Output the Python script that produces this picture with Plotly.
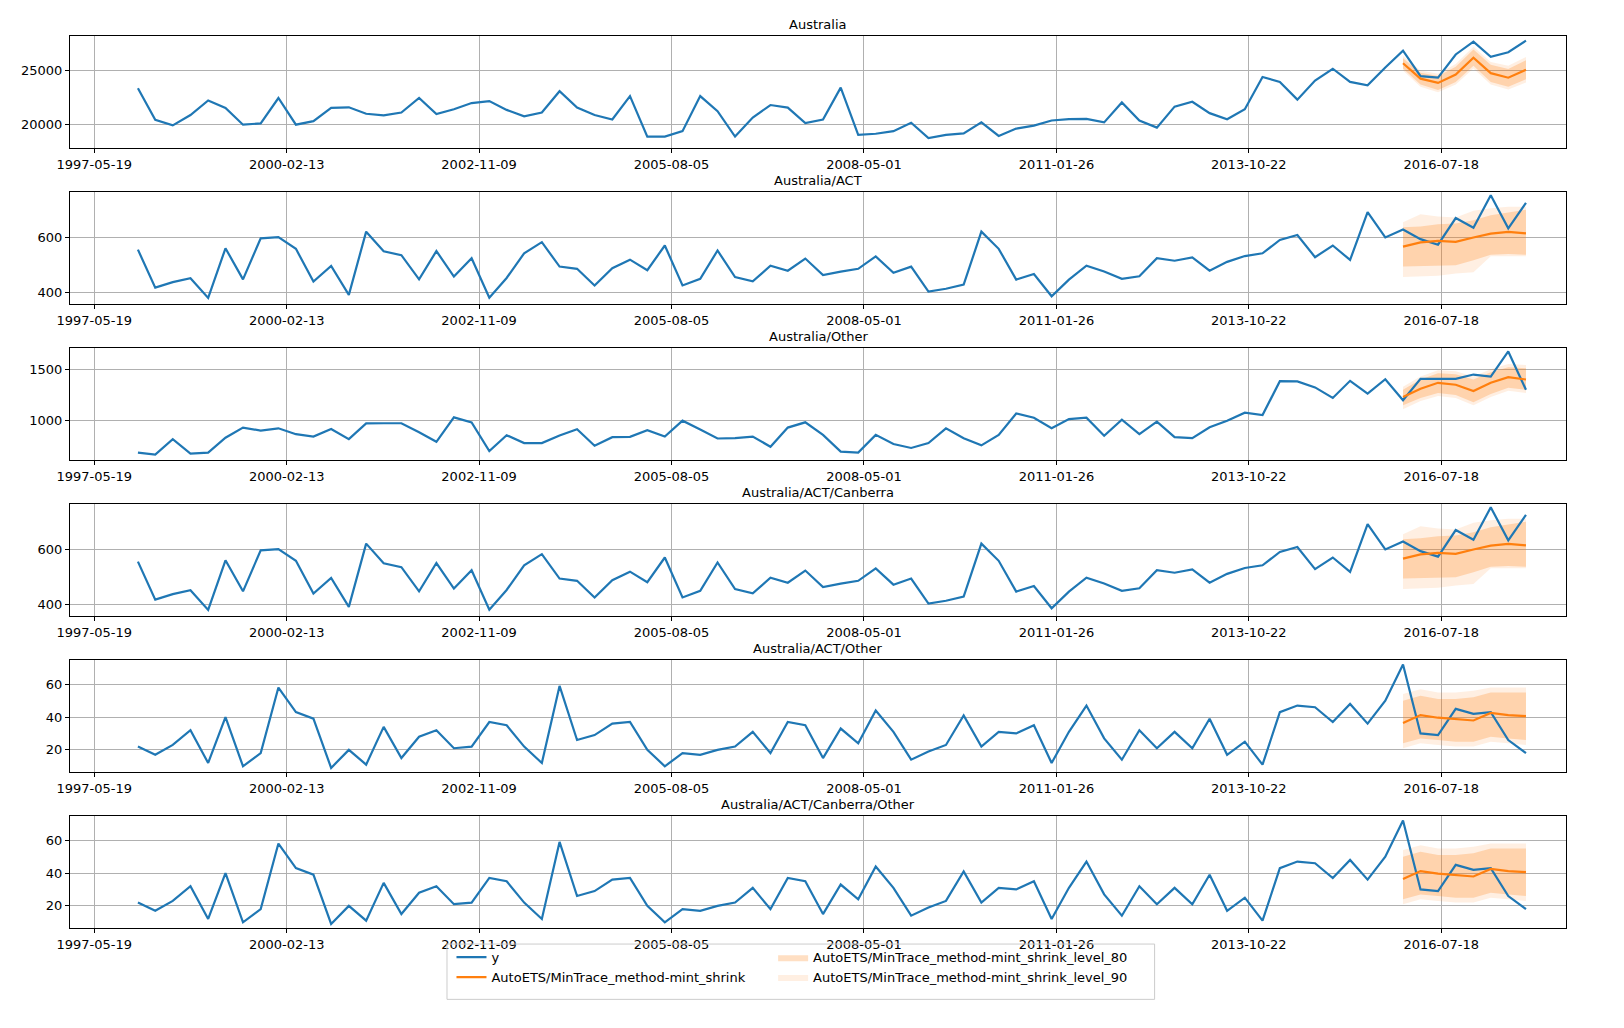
import pandas as pd
import plotly.graph_objects as go
from plotly.subplots import make_subplots

# quarterly observations, 1998 Q1 .. 2017 Q4
dates = pd.date_range("1998-01-01", periods=80, freq="QS")
fc_dates = dates[72:]

titles = ["Australia", "Australia/ACT", "Australia/Other", "Australia/ACT/Canberra",
          "Australia/ACT/Other", "Australia/ACT/Canberra/Other"]

y_aus = [23310, 20390, 19880, 20830, 22180, 21490, 19940, 20060, 22410, 19940,
         20270, 21490, 21550, 20950, 20800, 21070, 22410, 20920, 21370, 21940,
         22120, 21310, 20720, 21070, 23040, 21520, 20830, 20420, 22590, 18840,
         18840, 19340, 22590, 21190, 18840, 20600, 21760, 21520, 20090, 20420,
         23370, 18990, 19100, 19340, 20120, 18690, 18990, 19140, 20150, 18900,
         19580, 19850, 20330, 20450, 20480, 20150, 22000, 20330, 19670, 21610,
         22060, 21010, 20450, 21370, 24350, 23900, 22260, 24020, 25120, 23900,
         23580, 25240, 26790, 24440, 24290, 26440, 27630, 26230, 26650, 27720]
y_act = [556, 419, 439, 453, 382, 561, 449, 597, 601, 559,
         441, 497, 393, 621, 550, 536, 449, 551, 459, 525,
         383, 454, 543, 583, 495, 487, 427, 489, 520, 482,
         571, 427, 451, 553, 457, 442, 498, 480, 524, 464,
         477, 487, 532, 473, 495, 405, 415, 430, 621, 559,
         448, 468, 388, 448, 498, 477, 451, 460, 525, 516,
         528, 480, 512, 533, 543, 591, 609, 529, 571, 519,
         691, 600, 629, 594, 574, 670, 635, 752, 633, 725]
y_other = [690, 670, 820, 680, 690, 834, 933, 904, 926, 869,
           846, 920, 821, 974, 975, 975, 888, 795, 1032, 984,
           705, 859, 782, 782, 856, 917, 757, 840, 843, 907,
           846, 1000, 914, 827, 830, 846, 747, 933, 984, 862,
           700, 690, 862, 773, 735, 782, 926, 830, 760, 862,
           1070, 1029, 926, 1016, 1029, 853, 1010, 869, 990, 840,
           830, 936, 1000, 1077, 1054, 1384, 1381, 1323, 1221, 1387,
           1262, 1403, 1198, 1406, 1406, 1406, 1448, 1429, 1672, 1301]
y_act_other = [22, 17, 23, 32, 12, 40, 10, 18, 58, 43,
               39, 9, 20, 11, 34, 15, 28, 32, 21, 22,
               37, 35, 22, 12, 59, 26, 29, 36, 37, 20,
               10, 18, 17, 20, 22, 31, 18, 37, 35, 15,
               33, 24, 44, 31, 14, 19, 23, 41, 22, 31,
               30, 35, 12, 31, 47, 27, 14, 32, 21, 31,
               21, 39, 17, 25, 11, 43, 47, 46, 37, 48,
               36, 50, 72, 30, 29, 45, 42, 43, 26, 18]

# reconciled forecasts and intervals
f_aus = [25630, 24200, 23810, 24590, 26140, 24710, 24290, 25030]
lo80_aus = [25150, 23650, 23150, 23900, 25400, 23900, 23450, 24150]
hi80_aus = [26100, 24750, 24450, 25300, 26900, 25500, 25100, 25900]
lo90_aus = [24950, 23450, 22950, 23650, 25150, 23650, 23200, 23850]
hi90_aus = [26300, 24950, 24650, 25550, 27150, 25750, 25400, 26200]

f_act = [567, 582, 588, 584, 600, 614, 620, 615]
lo80_act = [495, 497, 500, 500, 518, 538, 540, 538]
hi80_act = [637, 640, 648, 650, 662, 680, 690, 700]
lo90_act = [457, 460, 462, 470, 475, 532, 532, 532]
hi90_act = [655, 684, 676, 672, 696, 705, 711, 711]

f_other = [1230, 1310, 1368, 1349, 1288, 1368, 1422, 1400]
lo80_other = [1150, 1220, 1270, 1250, 1180, 1260, 1320, 1300]
hi80_other = [1300, 1400, 1460, 1450, 1400, 1470, 1520, 1510]
lo90_other = [1110, 1190, 1240, 1220, 1150, 1230, 1290, 1270]
hi90_other = [1330, 1430, 1490, 1480, 1430, 1500, 1550, 1540]

f_ao = [36.3, 41.2, 39.6, 38.6, 37.9, 42.5, 41.2, 40.6]
lo80_ao = [24, 27, 26, 25, 25, 28, 27, 26]
hi80_ao = [50, 53, 51, 51, 52, 55, 55, 55]
lo90_ao = [21, 24, 23, 22, 22, 25, 24, 23]
hi90_ao = [54, 57, 55, 55, 56, 58, 58, 58]

tick_dates = ["1997-05-19", "2000-02-13", "2002-11-09", "2005-08-05",
              "2008-05-01", "2011-01-26", "2013-10-22", "2016-07-18"]

yticks_aus = [20000, 25000]
yticks_act = [400, 600]
yticks_other = [1000, 1500]
yticks_ao = [20, 40, 60]

panels = [
    (y_aus, f_aus, lo80_aus, hi80_aus, lo90_aus, hi90_aus, [17780, 28150], yticks_aus),
    (y_act, f_act, lo80_act, hi80_act, lo90_act, hi90_act, [360, 764], yticks_act),
    (y_other, f_other, lo80_other, hi80_other, lo90_other, hi90_other, [618, 1706], yticks_other),
    (y_act, f_act, lo80_act, hi80_act, lo90_act, hi90_act, [360, 764], yticks_act),
    (y_act_other, f_ao, lo80_ao, hi80_ao, lo90_ao, hi90_ao, [6.5, 74.8], yticks_ao),
    (y_act_other, f_ao, lo80_ao, hi80_ao, lo90_ao, hi90_ao, [6.5, 74.8], yticks_ao),
]

blue = "#1f77b4"
orange = "#ff7f0e"
name_fc = "AutoETS/MinTrace_method-mint_shrink"

fig = make_subplots(rows=6, cols=1, subplot_titles=titles, vertical_spacing=0.0493)

for i, (y, f, lo80, hi80, lo90, hi90, yr, yt) in enumerate(panels):
    row = i + 1
    first = i == 0
    fig.add_trace(go.Scatter(x=fc_dates, y=lo90, mode="lines", line=dict(width=0),
                             showlegend=False, hoverinfo="skip"), row=row, col=1)
    fig.add_trace(go.Scatter(x=fc_dates, y=hi90, mode="lines", line=dict(width=0),
                             fill="tonexty", fillcolor="rgba(255,127,14,0.12)",
                             name=name_fc + "_level_90", legend="legend2", legendrank=2,
                             showlegend=first), row=row, col=1)
    fig.add_trace(go.Scatter(x=fc_dates, y=lo80, mode="lines", line=dict(width=0),
                             showlegend=False, hoverinfo="skip"), row=row, col=1)
    fig.add_trace(go.Scatter(x=fc_dates, y=hi80, mode="lines", line=dict(width=0),
                             fill="tonexty", fillcolor="rgba(255,127,14,0.25)",
                             name=name_fc + "_level_80", legend="legend2", legendrank=1,
                             showlegend=first), row=row, col=1)
    fig.add_trace(go.Scatter(x=dates, y=y, mode="lines", line=dict(color=blue, width=2.2),
                             name="y", legendrank=1, showlegend=first), row=row, col=1)
    fig.add_trace(go.Scatter(x=fc_dates, y=f, mode="lines", line=dict(color=orange, width=2.2),
                             name=name_fc, legendrank=2, showlegend=first), row=row, col=1)
    fig.update_yaxes(range=yr, tickvals=yt, ticktext=[str(v) for v in yt], row=row, col=1)

fig.update_xaxes(range=["1997-01-13", "2018-04-27"], tickvals=tick_dates, ticktext=tick_dates,
                 showgrid=True, gridcolor="#b0b0b0", showline=True, linecolor="black",
                 mirror=True, ticks="outside", tickcolor="black", ticklen=4, zeroline=False,
                 tickfont=dict(size=13))
fig.update_yaxes(showgrid=True, gridcolor="#b0b0b0", showline=True, linecolor="black",
                 mirror=True, ticks="outside", tickcolor="black", ticklen=4, zeroline=False,
                 tickfont=dict(size=13))
fig.update_annotations(font=dict(size=13, color="black"), yshift=2)

legend_style = dict(orientation="v", yanchor="top", xanchor="left", y=-0.016,
                    bgcolor="rgba(0,0,0,0)", font=dict(size=13, color="black"),
                    traceorder="normal", tracegroupgap=4)
fig.update_layout(
    width=1624, height=1028,
    template="plotly_white",
    font=dict(family="DejaVu Sans", size=13, color="black"),
    margin=dict(l=62, r=66, t=28, b=108),
    plot_bgcolor="white", paper_bgcolor="white",
    legend=dict(x=0.255, **legend_style),
    legend2=dict(x=0.47, **legend_style),
    shapes=[dict(type="rect", xref="paper", yref="paper", x0=0.252, x1=0.725,
                 y0=-0.08, y1=-0.018, line=dict(color="#cccccc", width=1))],
)

fig.write_html("out.html")
